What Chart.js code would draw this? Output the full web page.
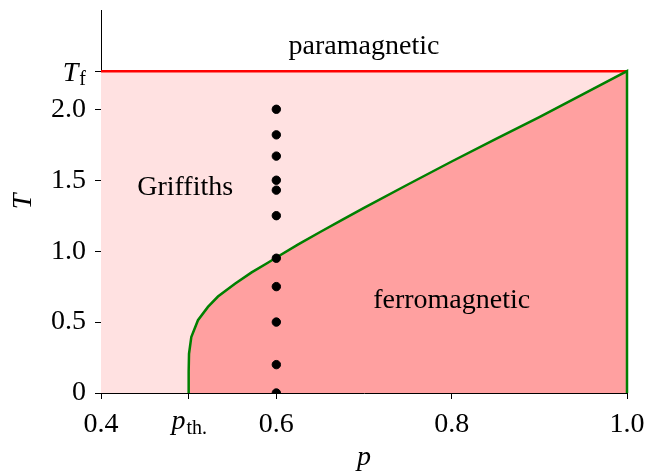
<!DOCTYPE html>
<html>
<head>
<meta charset="utf-8">
<script src="https://cdn.jsdelivr.net/npm/chart.js@4/dist/chart.umd.min.js"></script>
<style>
  html, body { margin: 0; padding: 0; background: #fff; }
</style>
</head>
<body>
<canvas id="chart" width="659" height="472"></canvas>
<script>
// critical temperature of the pure system
const Tf = 2.269;

// phase boundary T_c(p) (green curve), closed down to T = 0 at p = 1
const boundaryP = [0.5, 0.5, 0.5004, 0.503, 0.5106, 0.522, 0.5334, 0.5528, 0.5718, 0.5908, 0.6, 0.625, 0.65, 0.675, 0.7, 0.75, 0.8, 0.85, 0.9, 0.95, 1.0, 1.0];
const boundaryT = [0, 0.15, 0.277, 0.395, 0.513, 0.607, 0.68, 0.77, 0.85, 0.92, 0.955, 1.048, 1.135, 1.221, 1.305, 1.47, 1.632, 1.79, 1.945, 2.107, 2.269, 0];

// Griffiths line (red) at T_f
const griffP = [0.4, 1.0];
const griffT = [Tf, Tf];

// simulated points
const simP = [0.6, 0.6, 0.6, 0.6, 0.6, 0.6, 0.6, 0.6, 0.6, 0.6, 0.6];
const simT = [2.0, 1.82, 1.67, 1.5, 1.43, 1.25, 0.95, 0.75, 0.5, 0.2, 0];

// ticks
const xTicks = [0.4, 0.5, 0.6, 0.8, 1.0];
const xTickLabels = ['0.4', '', '0.6', '0.8', '1.0'];
const yTicks = [0, 0.5, 1.0, 1.5, 2.0, Tf];
const yTickLabels = ['0', '0.5', '1.0', '1.5', '2.0', ''];

const toXY = (xs, ys) => xs.map((x, i) => ({ x: x, y: ys[i] }));

const serif = '"Liberation Serif", "DejaVu Serif", serif';

// extra labels: p_th., T_f and the phase names
const labelsPlugin = {
  id: 'phaseLabels',
  afterDraw(chart) {
    const ctx = chart.ctx;
    const xs = chart.scales.x;
    const ys = chart.scales.y;
    ctx.save();
    ctx.fillStyle = '#000';

    // p_th. on the x axis
    const px = xs.getPixelForValue(0.5);
    ctx.font = 'italic 28px ' + serif;
    ctx.textBaseline = 'alphabetic';
    ctx.textAlign = 'left';
    const pw = ctx.measureText('p').width;
    ctx.font = '20px ' + serif;
    const sw = ctx.measureText('th.').width;
    const x0 = px - (pw + sw) / 2;
    ctx.font = 'italic 28px ' + serif;
    ctx.fillText('p', x0, 429);
    ctx.font = '20px ' + serif;
    ctx.fillText('th.', x0 + pw + 1, 434);

    // T_f on the y axis
    const ty = ys.getPixelForValue(Tf);
    ctx.font = '20px ' + serif;
    const fw = ctx.measureText('f').width;
    ctx.font = 'italic 28px ' + serif;
    const tw = ctx.measureText('T').width;
    const right = 86;
    ctx.fillText('T', right - fw - tw - 1, ty + 10);
    ctx.font = '20px ' + serif;
    ctx.fillText('f', right - fw, ty + 14);

    // phase names
    ctx.font = '28px ' + serif;
    ctx.textAlign = 'center';
    ctx.textBaseline = 'middle';
    ctx.fillText('paramagnetic', xs.getPixelForValue(0.7), ys.getPixelForValue(2.44));
    ctx.fillText('Griffiths', xs.getPixelForValue(0.496), ys.getPixelForValue(1.45));
    ctx.fillText('ferromagnetic', xs.getPixelForValue(0.8), ys.getPixelForValue(0.65));
    ctx.restore();
  }
};

new Chart(document.getElementById('chart'), {
  type: 'line',
  data: {
    datasets: [
      {
        type: 'scatter',
        data: toXY(simP, simT),
        backgroundColor: '#000',
        borderColor: '#000',
        pointRadius: 4.2,
        pointHoverRadius: 4.2,
        order: 0
      },
      {
        data: toXY(boundaryP, boundaryT),
        borderColor: '#008000',
        borderWidth: 2.5,
        backgroundColor: '#ffa0a0',
        fill: 'origin',
        pointRadius: 0,
        tension: 0,
        clip: { left: 2, right: 3, top: 3, bottom: 0 },
        order: 1
      },
      {
        data: toXY(griffP, griffT),
        borderColor: '#ff0000',
        borderWidth: 2.5,
        backgroundColor: '#ffe1e1',
        fill: 'origin',
        pointRadius: 0,
        tension: 0,
        order: 2
      }
    ]
  },
  options: {
    responsive: false,
    animation: false,
    layout: { padding: { left: 0, right: 32, top: 10, bottom: 0 } },
    plugins: {
      legend: { display: false },
      tooltip: { enabled: false }
    },
    scales: {
      x: {
        type: 'linear',
        min: 0.4,
        max: 1.0,
        afterBuildTicks: (s) => { s.ticks = xTicks.map(v => ({ value: v })); },
        afterFit: (s) => { s.height = 79; s.paddingLeft = 0; s.paddingRight = 0; },
        ticks: {
          autoSkip: false,
          maxRotation: 0,
          padding: 9,
          color: '#000',
          font: { family: serif, size: 28 },
          callback: (v, i) => xTickLabels[i]
        },
        grid: { drawOnChartArea: false, drawTicks: true, tickLength: 6, color: '#000', lineWidth: 1 },
        border: { color: '#000', width: 1 },
        title: {
          display: true,
          text: 'p',
          color: '#000',
          font: { family: serif, size: 28, style: 'italic', lineHeight: 1 },
          padding: { top: 0, bottom: 0 }
        }
      },
      y: {
        type: 'linear',
        min: 0,
        max: 2.7,
        afterBuildTicks: (s) => { s.ticks = yTicks.map(v => ({ value: v })); },
        afterFit: (s) => { s.width = 101; s.paddingTop = 0; s.paddingBottom = 0; },
        ticks: {
          autoSkip: false,
          padding: 9,
          color: '#000',
          font: { family: serif, size: 28 },
          callback: (v, i) => yTickLabels[i]
        },
        grid: { drawOnChartArea: false, drawTicks: true, tickLength: 6, color: '#000', lineWidth: 1 },
        border: { color: '#000', width: 1 },
        title: {
          display: true,
          text: 'T',
          color: '#000',
          font: { family: serif, size: 28, style: 'italic', lineHeight: 1 },
          padding: { top: 10, bottom: 0 }
        }
      }
    }
  },
  plugins: [labelsPlugin]
});
</script>
</body>
</html>
